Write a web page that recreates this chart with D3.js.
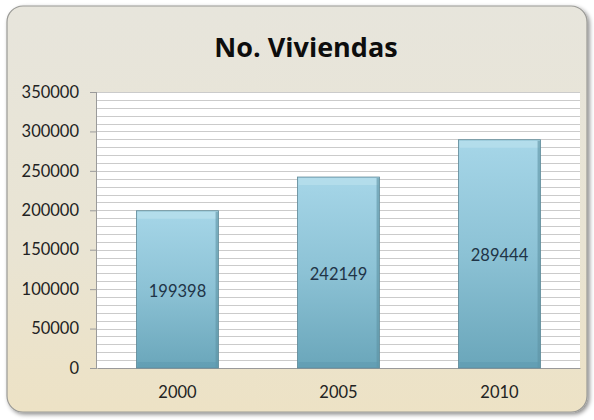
<!DOCTYPE html>
<html><head><meta charset="utf-8">
<script src="https://cdn.jsdelivr.net/npm/d3@7"></script>
<style>html,body{margin:0;padding:0;background:#fff;}svg{display:block;}</style>
</head><body>
<svg id="c" width="594" height="420"></svg>
<script>
const title = "No. Viviendas";
const categories = ["2000", "2005", "2010"];
const values = [199398, 242149, 289444];
const yTicks = [0, 50000, 100000, 150000, 200000, 250000, 300000, 350000];
const yMinorStep = 10000;

const svg = d3.select("#c");
const defs = svg.append("defs");

const bg = defs.append("linearGradient").attr("id","bg").attr("x1",0).attr("y1",0).attr("x2",0).attr("y2",1);
bg.append("stop").attr("offset","0%").attr("stop-color","#e7e5dc");
bg.append("stop").attr("offset","60%").attr("stop-color","#e9e4d3");
bg.append("stop").attr("offset","100%").attr("stop-color","#ede2c5");

const bar = defs.append("linearGradient").attr("id","bar").attr("x1",0).attr("y1",0).attr("x2",0).attr("y2",1);
bar.append("stop").attr("offset","0%").attr("stop-color","#a6d6e8");
bar.append("stop").attr("offset","50%").attr("stop-color","#8cc2d5");
bar.append("stop").attr("offset","100%").attr("stop-color","#6aa6ba");

const shadow = defs.append("filter").attr("id","sh").attr("x","-5%").attr("y","-5%").attr("width","110%").attr("height","110%");
shadow.append("feDropShadow").attr("dx",2).attr("dy",2).attr("stdDeviation",2).attr("flood-color","#000").attr("flood-opacity",0.45);

// frame
svg.append("rect").attr("x",7).attr("y",6).attr("width",580).attr("height",406)
  .attr("rx",16).attr("fill","url(#bg)").attr("stroke","#9a9a96").attr("stroke-width",1.2)
  .attr("filter","url(#sh)");

const m = {left:97, right:580, top:92, bottom:368};
const x = d3.scaleBand().domain(categories).range([m.left, m.right]).paddingInner(0.49).paddingOuter(0.245);
const y = d3.scaleLinear().domain([0, 350000]).range([m.bottom, m.top]);

// plot area
svg.append("rect").attr("x",m.left).attr("y",m.top).attr("width",m.right-m.left).attr("height",m.bottom-m.top).attr("fill","#ffffff");

// minor gridlines
const minor = d3.range(yMinorStep, 350000 + 1, yMinorStep);
svg.append("g").selectAll("line").data(minor).join("line")
  .attr("x1",m.left).attr("x2",m.right)
  .attr("y1",d=>Math.round(y(d))+0.5).attr("y2",d=>Math.round(y(d))+0.5)
  .attr("stroke","#cbcbcb").attr("stroke-width",1);

// y axis
const yAxis = d3.axisLeft(y).tickValues(yTicks).tickSize(7).tickPadding(11).tickFormat(d3.format("d"));
const ya = svg.append("g").attr("transform",`translate(${m.left},0)`).call(yAxis);
ya.select(".domain").attr("stroke","#9a9a9a").attr("d",`M-0.5,${m.top}V${m.bottom}`);
ya.selectAll(".tick line").attr("stroke","#9a9a9a");
ya.selectAll(".tick text").attr("fill","#222").style("font-family","Lato, 'Open Sans', sans-serif").style("font-size","16.5px");

// x axis
const xAxis = d3.axisBottom(x).tickSize(0).tickPadding(18);
const xa = svg.append("g").attr("transform",`translate(0,${m.bottom})`).call(xAxis);
xa.select(".domain").attr("stroke","#9a9a9a");
xa.selectAll(".tick text").attr("fill","#222").style("font-family","Lato, 'Open Sans', sans-serif").style("font-size","16.5px");

// bars
const g = svg.append("g");
const bars = g.selectAll("g.b").data(categories.map((c,i)=>({c, v:values[i]}))).join("g").attr("class","b");
bars.append("rect")
  .attr("x",d=>x(d.c)).attr("y",d=>y(d.v))
  .attr("width",x.bandwidth()).attr("height",d=>y(0)-y(d.v))
  .attr("fill","url(#bar)").attr("stroke","#5d8796").attr("stroke-width",0.8);
// bevel highlight at top
bars.append("rect")
  .attr("x",d=>x(d.c)+1).attr("y",d=>y(d.v)+1)
  .attr("width",x.bandwidth()-2).attr("height",7)
  .attr("fill","#c0e3ef").attr("opacity",0.55);
// right edge shade
bars.append("rect")
  .attr("x",d=>x(d.c)+x.bandwidth()-3).attr("y",d=>y(d.v)+1)
  .attr("width",2.5).attr("height",d=>y(0)-y(d.v)-1)
  .attr("fill","#5e92a4").attr("opacity",0.6);
// bottom shade
bars.append("rect")
  .attr("x",d=>x(d.c)+1).attr("y",d=>y(0)-6)
  .attr("width",x.bandwidth()-2).attr("height",6)
  .attr("fill","#5b98ad").attr("opacity",0.5);

bars.append("text")
  .attr("x",d=>x(d.c)+x.bandwidth()/2)
  .attr("y",d=>(y(d.v)+y(0))/2 + 3)
  .attr("text-anchor","middle").attr("dominant-baseline","middle")
  .attr("fill","#1f3447")
  .style("font-family","Lato, 'Open Sans', sans-serif").style("font-size","16.5px")
  .text(d=>d.v);

// title
svg.append("text").attr("x",306).attr("y",57).attr("text-anchor","middle")
  .style("font-family","'Open Sans', Lato, sans-serif").style("font-weight","bold").style("font-size","27px")
  .attr("fill","#0d0d0d").text(title);
</script>
</body></html>
